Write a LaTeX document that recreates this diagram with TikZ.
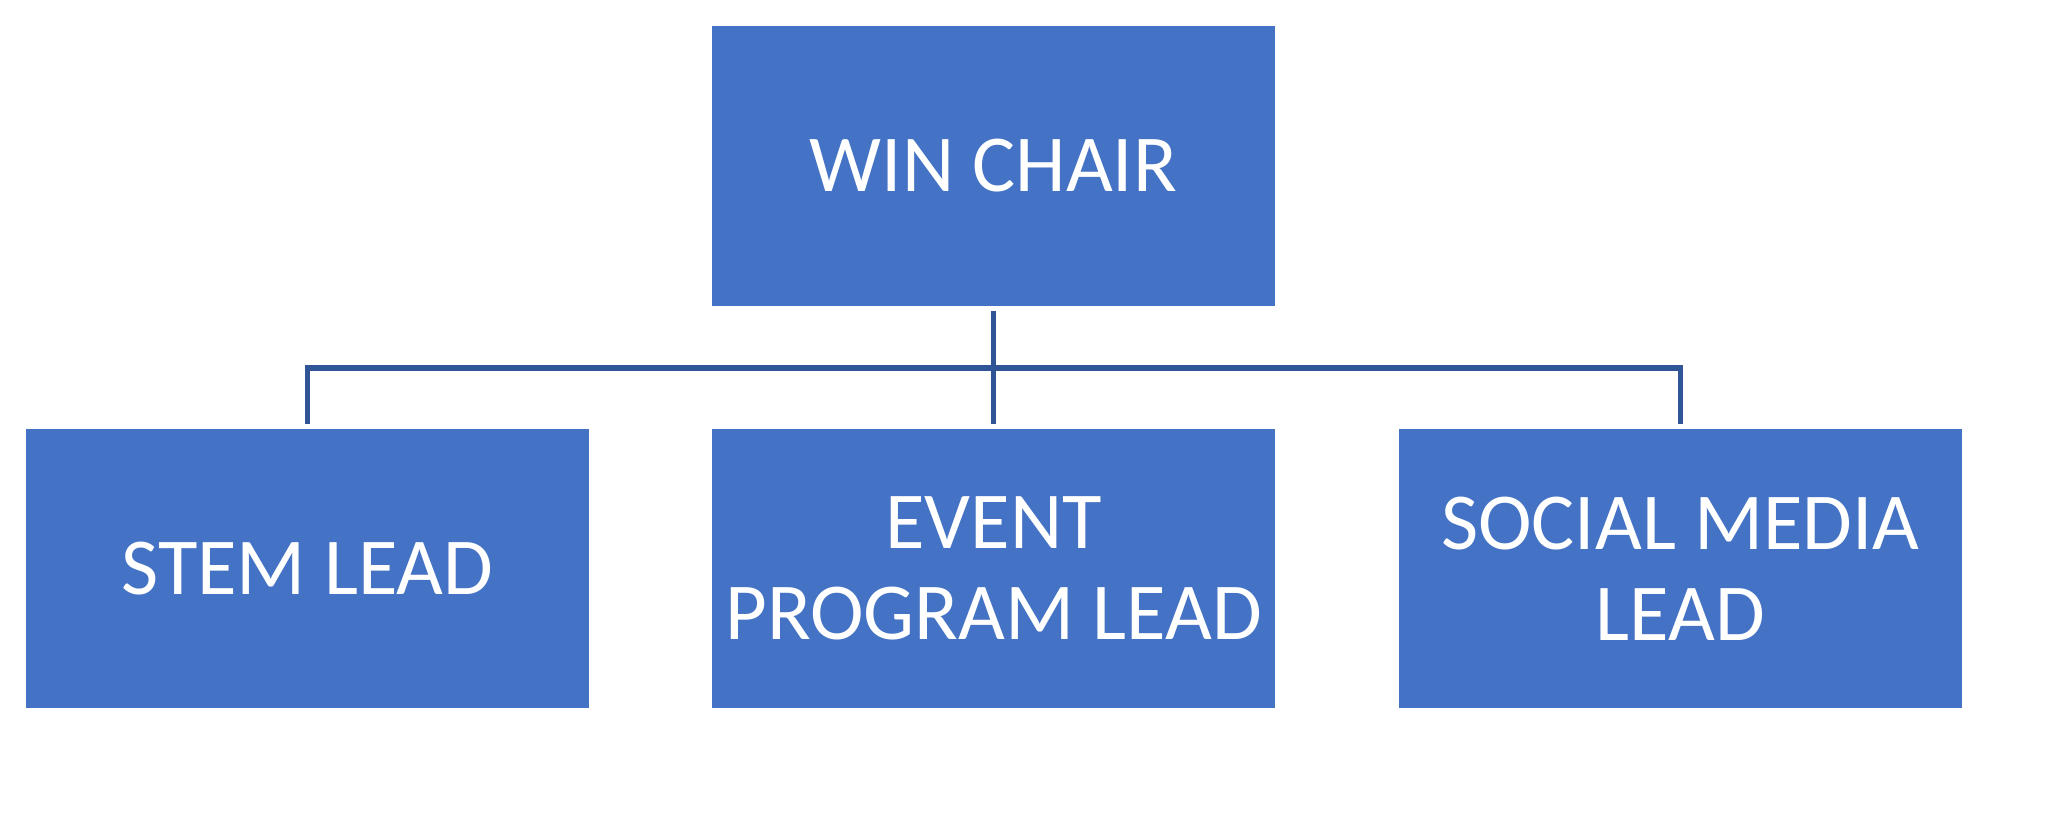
\documentclass[tikz,border=0pt]{standalone}
\usepackage{fontspec}
\setmainfont{Carlito}
\usepackage{xcolor}
\definecolor{boxblue}{HTML}{4472C4}
\definecolor{lineblue}{HTML}{2F5597}

\tikzset{
  role/.style={fill=boxblue, text=white, inner sep=0pt, outer sep=0pt,
    minimum width=5.63cm, minimum height=2.79cm, align=center,
    font=\fontsize{23}{26}\selectfont},
  link/.style={draw=lineblue, line width=1.45pt, shorten <=1.3pt, shorten >=1.3pt}
}

\begin{document}
\begin{tikzpicture}
                \useasboundingbox (0,0) rectangle (20.57,-8.39);

                \node[role, minimum height=2.80cm] (chair) at (9.935,-1.66) {WIN CHAIR};
                \node[role] (stem) at (3.075,-5.685) {STEM LEAD};
                \node[role] (event) at (9.935,-5.685) {EVENT\\PROGRAM LEAD};
                \node[role] (social) at (16.805,-5.685) {SOCIAL MEDIA\\LEAD};

                \coordinate (bus) at (9.935,-3.68);

                \draw[link] (chair.south) -- (event.north);
                \draw[link] (stem.north) |- (bus) -| (social.north);
            \end{tikzpicture}
\end{document}
